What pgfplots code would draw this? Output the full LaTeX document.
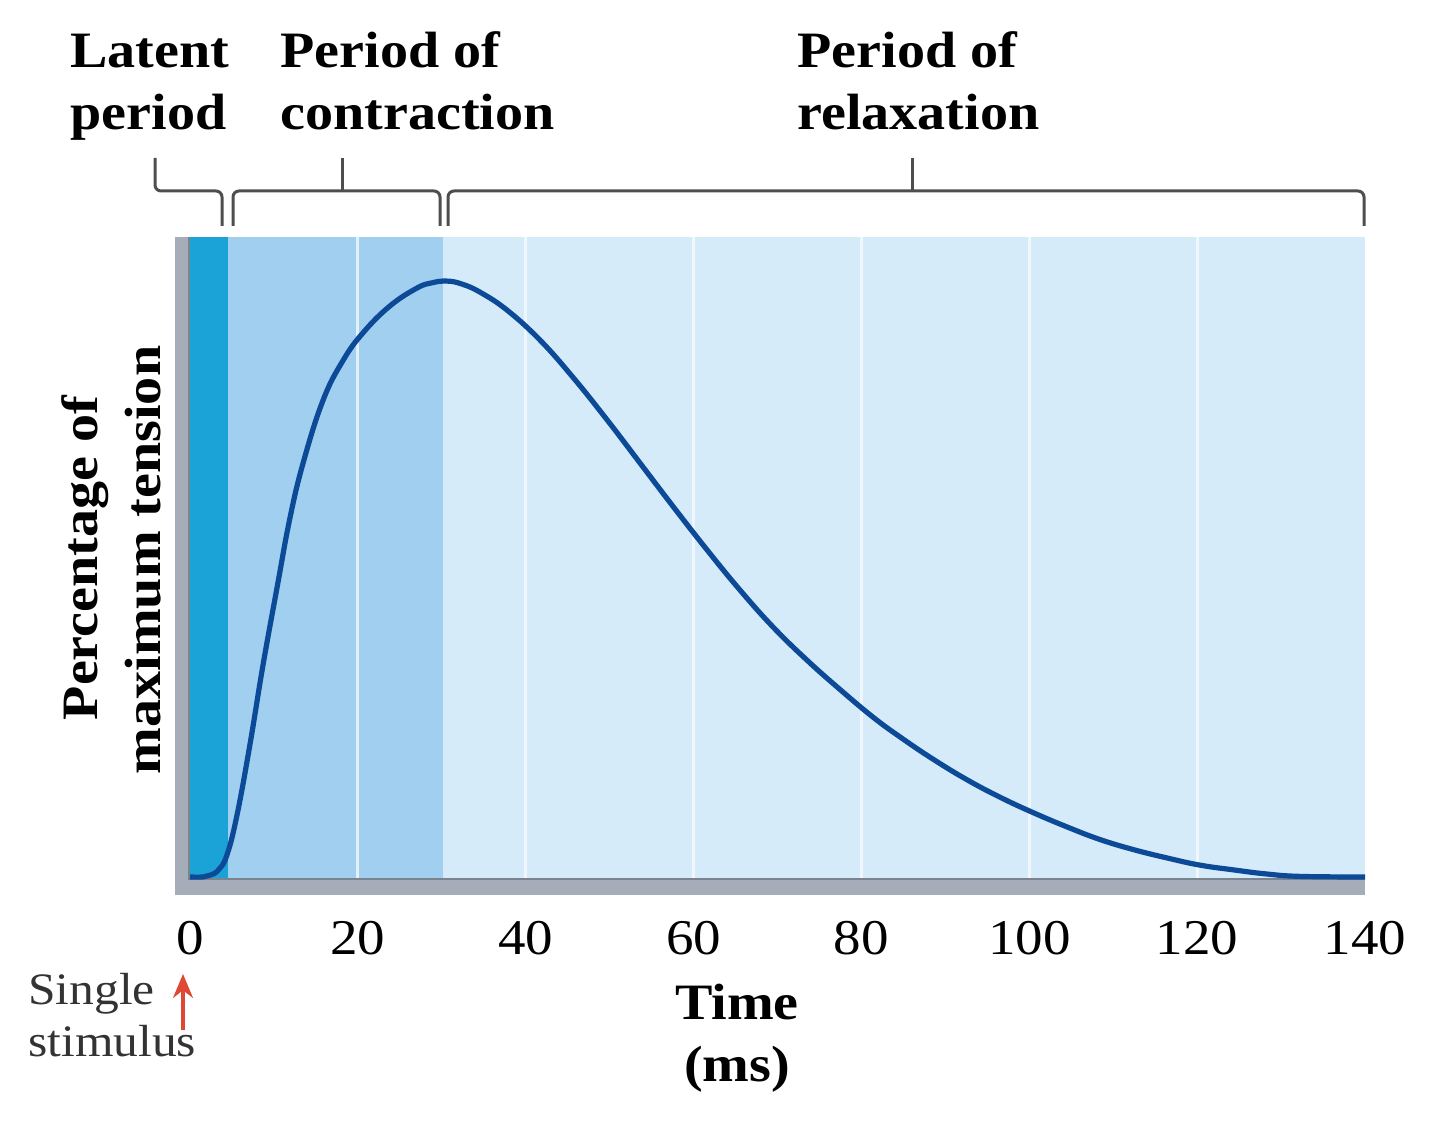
\documentclass[border=0pt]{standalone}
\usepackage{fontspec}
\setmainfont{Liberation Serif}[FakeStretch=1.1]
\usepackage{pgfplots}
\pgfplotsset{compat=1.18}
\usetikzlibrary{arrows.meta}

\definecolor{latent}{RGB}{27,163,216}
\definecolor{contract}{RGB}{160,207,239}
\definecolor{relax}{RGB}{213,235,250}
\definecolor{gridA}{RGB}{226,241,251}
\definecolor{gridB}{RGB}{238,247,253}
\definecolor{twitch}{RGB}{12,74,152}
\definecolor{frame}{RGB}{165,174,184}
\definecolor{frameedge}{RGB}{122,132,143}
\definecolor{bracket}{RGB}{78,78,78}
\definecolor{stim}{RGB}{222,72,52}

\newcommand\lbl{\fontsize{25.5}{30}\selectfont\bfseries}

\begin{document}
\begin{tikzpicture}
\useasboundingbox (0,0) rectangle (720pt,567pt);
\begin{axis}[
  at={(87.5pt,119.5pt)}, anchor=south west,
  scale only axis, width=595pt, height=329pt,
  xmin=-1.79, xmax=140, ymin=-3.02, ymax=107.4,
  axis line style={draw=none},
  xtick={0,20,...,140}, ytick=\empty,
  major tick length=0pt,
  /pgf/number format/assume math mode=true,
  xticklabel style={font=\fontsize{25}{25}\selectfont, anchor=base, yshift=-30pt},
  clip=false,
]
% phases of the twitch
\addplot[draw=none, fill=latent] coordinates {(0,-0.17) (0,107.4) (4.5,107.4) (4.5,-0.17)} -- cycle;
\addplot[draw=none, fill=contract] coordinates {(4.5,-0.17) (4.5,107.4) (30.2,107.4) (30.2,-0.17)} -- cycle;
\addplot[draw=none, fill=relax] coordinates {(30.2,-0.17) (30.2,107.4) (140,107.4) (140,-0.17)} -- cycle;
% vertical grid
\addplot[gridA, line width=1.4pt] coordinates {(20,-0.17) (20,107.4)};
\addplot[gridB, line width=1.4pt] coordinates {(40,-0.17) (40,107.4)};
\addplot[gridB, line width=1.4pt] coordinates {(60,-0.17) (60,107.4)};
\addplot[gridB, line width=1.4pt] coordinates {(80,-0.17) (80,107.4)};
\addplot[gridB, line width=1.4pt] coordinates {(100,-0.17) (100,107.4)};
\addplot[gridB, line width=1.4pt] coordinates {(120,-0.17) (120,107.4)};
% frame bars
\addplot[draw=none, fill=frame] coordinates {(-1.79,-3.02) (-1.79,107.4) (0,107.4) (0,-3.02)} -- cycle;
\addplot[draw=none, fill=frame] coordinates {(-1.79,-3.02) (-1.79,-0.17) (140,-0.17) (140,-3.02)} -- cycle;
\addplot[frameedge, line width=1.1pt] coordinates {(-0.12,107.4) (-0.12,-0.35) (140,-0.35)};
% tension curve
\addplot[twitch, line width=2.6pt, smooth, tension=0.7] coordinates {
(0,0) (1.5,0) (2.4,0.3) (3.4,1.2) (4.4,3.7) (5.6,10.4) (7.15,22.3) (8.7,35.6)
(10.4,48.8) (11.9,60.2) (13.5,69.6) (15.85,80.0) (18.2,86.6) (20.6,91.3)
(23.8,95.8) (27.0,98.8) (28.8,99.7) (30.6,100) (32.4,99.5) (34.6,98.1)
(37.8,95.1) (41.7,90.1)
(45.6,83.9) (49.7,76.7) (53.6,69.5) (57.6,62.1) (61.6,54.9) (65.5,48.2)
(69.5,41.9) (73.5,36.4) (77.5,31.4) (81.4,26.8) (84.6,23.5) (88.5,19.8)
(92.6,16.3) (96.5,13.4) (100.3,10.9) (104.5,8.4) (108.4,6.3) (112.4,4.6)
(116.4,3.2) (120.3,2.0) (124.3,1.2) (128.3,0.5) (132.3,0.1) (140,0)
};
\end{axis}

% phase brackets
\begin{scope}[bracket, line width=1.5pt, rounded corners=3pt]
\draw (77.5pt,488pt) -- (77.5pt,471.5pt) -- (111pt,471.5pt) -- (111pt,454pt);
\draw (116.5pt,454pt) -- (116.5pt,471.5pt) -- (220pt,471.5pt) -- (220pt,454pt);
\draw (224pt,454pt) -- (224pt,471.5pt) -- (682pt,471.5pt) -- (682pt,454pt);
\end{scope}
\draw[bracket, line width=1.5pt] (171pt,471.5pt) -- (171pt,488pt);
\draw[bracket, line width=1.5pt] (456pt,471.5pt) -- (456pt,488pt);

% phase labels
\node[anchor=base west, inner sep=0, font=\lbl] at (35pt,533pt) {Latent};
\node[anchor=base west, inner sep=0, font=\lbl] at (35pt,502pt) {period};
\node[anchor=base west, inner sep=0, font=\lbl] at (140pt,533pt) {Period of};
\node[anchor=base west, inner sep=0, font=\lbl] at (140pt,502pt) {contraction};
\node[anchor=base west, inner sep=0, font=\lbl] at (398.5pt,533pt) {Period of};
\node[anchor=base west, inner sep=0, font=\lbl] at (398.5pt,502pt) {relaxation};

% axis titles
\node[rotate=90, anchor=base, inner sep=0, font=\lbl] at (48.5pt,288pt) {Percentage of};
\node[rotate=90, anchor=base, inner sep=0, font=\lbl] at (80pt,287pt) {maximum tension};
\node[anchor=base, inner sep=0, font=\lbl] at (368.5pt,57pt) {Time};
\node[anchor=base, inner sep=0, font=\lbl] at (368.5pt,26pt) {(ms)};

% stimulus marker
\node[anchor=base west, inner sep=0, font=\fontsize{22.5}{26}\selectfont, text=black!80] at (14pt,64.5pt) {Single};
\node[anchor=base west, inner sep=0, font=\fontsize{22.5}{26}\selectfont, text=black!80] at (14pt,38.5pt) {stimulus};
\draw[stim, line width=1.6pt, -{Stealth[length=12pt,width=10pt]}] (91.5pt,52pt) -- (91.5pt,80pt);
\end{tikzpicture}
\end{document}
